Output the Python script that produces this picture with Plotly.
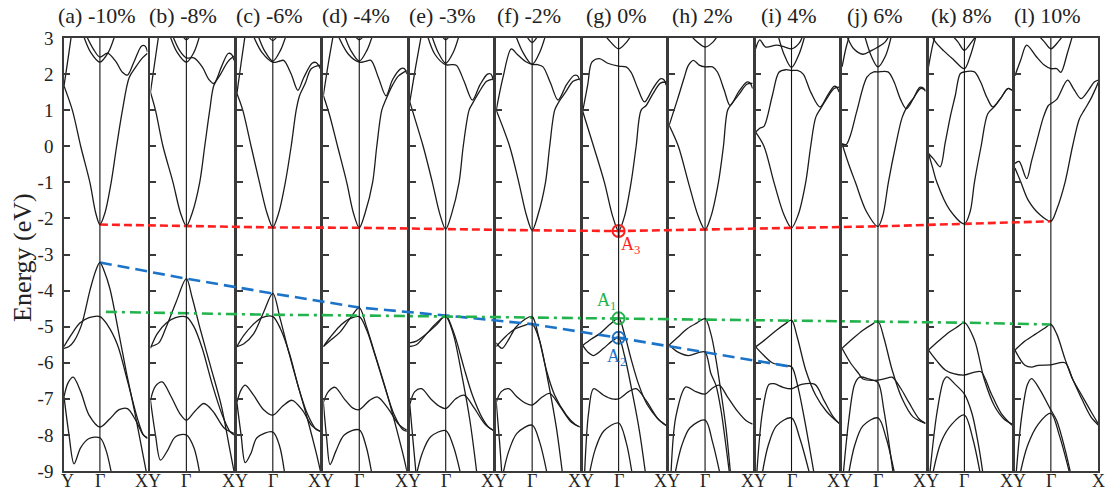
import plotly.graph_objects as go

# ---------------- data ----------------
TITLES = ["(a) -10%", "(b) -8%", "(c) -6%", "(d) -4%", "(e) -3%", "(f) -2%",
          "(g) 0%", "(h) 2%", "(i) 4%", "(j) 6%", "(k) 8%", "(l) 10%"]
Y_TICKS = [-9, -8, -7, -6, -5, -4, -3, -2, -1, 0, 1, 2, 3]
Y_TICK_TEXT = ["-9", "-8", "-7", "-6", "-5", "-4", "-3", "-2", "-1", "0", "1", "2", "3"]
K_LABELS = ["Y", "Γ", "X"]

# energies at Γ of each panel for the guide lines
RED_E = [-2.17, -2.21, -2.25, -2.26, -2.30, -2.33, -2.35, -2.31, -2.26, -2.22, -2.15, -2.08]
GREEN_E = [-4.59, -4.63, -4.67, -4.69, -4.72, -4.74, -4.77, -4.79, -4.82, -4.85, -4.89, -4.94]
BLUE_E = [-3.22, -3.67, -4.08, -4.47, -4.69, -4.93, -5.31, -5.70, -6.11]
A_POINTS_E = [-4.77, -5.31, -2.35]  # A1, A2, A3 at Γ of (g)

# band nodes (k, E); k: Y=0, Γ=0.43, X=1
BANDS_A = [
    [(0, 1.67), (0.1, 1.0), (0.2, 0.0), (0.31, -1.0), (0.38, -1.85), (0.43, -2.17), (0.49, -1.85), (0.565, -1.0), (0.63, 0.0), (0.70, 1.0), (0.78, 1.9), (0.86, 2.2), (0.94, 2.45), (1.0, 2.58)],
    [(0.25, 3.15), (0.35, 2.7), (0.43, 2.47), (0.52, 2.58), (0.62, 2.35), (0.70, 2.05), (0.76, 1.97), (0.84, 2.35), (0.93, 2.78), (0.97, 2.78), (1.0, 2.62)],
    [(0.22, 3.15), (0.32, 2.6), (0.43, 2.33), (0.53, 2.6), (0.62, 3.15)],
    [(0, 1.67), (0.05, 2.45), (0.09, 3.1)],
    [(0, -5.6), (0.06, -5.55), (0.12, -5.4), (0.21, -4.95), (0.31, -4.0), (0.38, -3.45), (0.43, -3.22), (0.48, -3.45), (0.55, -3.95), (0.65, -5.1), (0.75, -6.3), (0.85, -7.4), (0.95, -8.6), (1.0, -9.2)],
    [(0, -5.55), (0.08, -5.25), (0.19, -4.9), (0.3, -4.75), (0.43, -4.72), (0.52, -4.95), (0.64, -5.5), (0.76, -6.5), (0.88, -7.55), (0.95, -8.0), (1.0, -8.1)],
    [(0, -6.94), (0.05, -6.55), (0.11, -6.4), (0.2, -6.8), (0.3, -7.45), (0.43, -7.78), (0.55, -7.55), (0.66, -7.3), (0.76, -7.27), (0.86, -7.6), (0.95, -8.0), (1.0, -8.08)],
    [(0, -6.94), (0.06, -8.0), (0.12, -8.8), (0.2, -8.35), (0.3, -8.1), (0.43, -8.08), (0.5, -8.4), (0.58, -9.2)],
]
BANDS_B = [
    [(0, 1.5), (0.06, 1.0), (0.15, 0.0), (0.27, -1.0), (0.36, -1.85), (0.43, -2.21), (0.5, -1.85), (0.59, -1.0), (0.65, 0.0), (0.71, 1.0), (0.76, 1.69), (0.84, 2.0), (0.93, 2.35), (1.0, 2.5)],
    [(0.25, 3.15), (0.35, 2.65), (0.43, 2.45), (0.52, 2.45), (0.62, 2.2), (0.70, 1.85), (0.76, 1.74), (0.85, 2.2), (0.93, 2.57), (0.97, 2.55), (1.0, 2.38)],
    [(0.22, 3.15), (0.32, 2.6), (0.43, 2.33), (0.52, 2.6), (0.6, 3.15)],
    [(0.36, 3.15), (0.43, 2.95), (0.5, 3.15)],
    [(0, 1.5), (0.05, 2.3), (0.1, 3.1)],
    [(0, -5.55), (0.1, -5.45), (0.19, -5.0), (0.31, -4.3), (0.43, -3.67), (0.5, -4.2), (0.6, -5.1), (0.72, -6.1), (0.85, -7.2), (0.95, -8.4), (1.0, -9.0)],
    [(0, -5.6), (0.08, -5.2), (0.19, -4.9), (0.3, -4.75), (0.43, -4.73), (0.52, -5.0), (0.62, -5.6), (0.74, -6.6), (0.86, -7.45), (0.95, -7.9), (1.0, -8.0)],
    [(0, -7.04), (0.06, -6.65), (0.14, -6.53), (0.25, -6.95), (0.35, -7.4), (0.43, -7.59), (0.53, -7.35), (0.64, -7.13), (0.75, -7.35), (0.88, -7.8), (1.0, -7.96)],
    [(0, -7.04), (0.06, -8.0), (0.12, -8.7), (0.2, -8.45), (0.3, -8.05), (0.43, -8.0), (0.52, -8.35), (0.6, -9.2)],
]
BANDS_C = [
    [(0, 1.46), (0.07, 1.0), (0.17, 0.0), (0.27, -1.0), (0.36, -1.85), (0.43, -2.24), (0.5, -1.85), (0.58, -1.0), (0.65, 0.0), (0.71, 1.0), (0.75, 1.4), (0.82, 1.75), (0.89, 2.15), (1.0, 2.25)],
    [(0.18, 3.15), (0.3, 2.6), (0.43, 2.33), (0.5, 2.35), (0.56, 2.38), (0.65, 2.0), (0.73, 1.55), (0.8, 1.9), (0.9, 2.3), (0.95, 2.32), (1.0, 2.15)],
    [(0.24, 3.15), (0.33, 2.65), (0.43, 2.36), (0.52, 2.65), (0.6, 3.15)],
    [(0.35, 3.15), (0.43, 2.93), (0.51, 3.15)],
    [(0, 1.46), (0.05, 2.3), (0.1, 3.1)],
    [(0, -5.55), (0.08, -5.48), (0.2, -5.2), (0.32, -4.6), (0.43, -4.08), (0.52, -4.8), (0.62, -5.7), (0.73, -6.62), (0.85, -7.6), (0.95, -8.5), (1.0, -9.0)],
    [(0, -5.55), (0.08, -5.25), (0.19, -4.95), (0.3, -4.75), (0.43, -4.72), (0.52, -5.05), (0.63, -5.75), (0.74, -6.7), (0.85, -7.45), (0.95, -7.85), (1.0, -7.9)],
    [(0, -7.1), (0.05, -6.75), (0.1, -6.62), (0.2, -6.9), (0.32, -7.3), (0.43, -7.45), (0.55, -7.2), (0.66, -7.04), (0.78, -7.3), (0.9, -7.75), (1.0, -7.9)],
    [(0, -7.1), (0.05, -8.0), (0.1, -8.77), (0.17, -8.5), (0.24, -8.08), (0.43, -7.92), (0.51, -8.3), (0.58, -9.2)],
]
BANDS_D = [
    [(0, 1.41), (0.07, 0.9), (0.17, 0.0), (0.28, -1.0), (0.36, -1.85), (0.43, -2.26), (0.5, -1.85), (0.59, -1.0), (0.64, 0.0), (0.7, 1.0), (0.75, 1.3), (0.83, 1.7), (0.9, 1.95), (1.0, 2.1)],
    [(0.16, 3.15), (0.3, 2.55), (0.43, 2.33), (0.5, 2.35), (0.57, 2.38), (0.66, 1.9), (0.75, 1.4), (0.83, 1.85), (0.93, 2.15), (0.97, 2.15), (1.0, 2.0)],
    [(0.24, 3.15), (0.33, 2.65), (0.43, 2.36), (0.52, 2.65), (0.6, 3.15)],
    [(0.35, 3.15), (0.43, 2.95), (0.51, 3.15)],
    [(0, 1.41), (0.06, 2.3), (0.12, 3.1)],
    [(0, -5.55), (0.1, -5.35), (0.2, -5.15), (0.32, -4.77), (0.43, -4.47), (0.51, -4.95), (0.61, -5.7), (0.73, -6.6), (0.85, -7.6), (0.95, -8.5), (1.0, -9.0)],
    [(0, -5.55), (0.08, -5.3), (0.19, -5.0), (0.3, -4.8), (0.43, -4.72), (0.52, -5.1), (0.62, -5.8), (0.74, -6.7), (0.85, -7.45), (0.95, -7.85), (1.0, -7.9)],
    [(0, -7.1), (0.06, -6.8), (0.14, -6.68), (0.25, -7.0), (0.35, -7.25), (0.43, -7.3), (0.55, -7.05), (0.65, -6.95), (0.77, -7.25), (0.9, -7.7), (1.0, -7.87)],
    [(0, -7.1), (0.04, -8.1), (0.08, -8.82), (0.15, -8.45), (0.25, -8.0), (0.43, -7.86), (0.51, -8.3), (0.59, -9.2)],
]
BANDS_E = [
    [(0, 1.23), (0.03, 1.0), (0.16, 0.0), (0.27, -1.0), (0.36, -1.88), (0.43, -2.3), (0.5, -1.88), (0.59, -1.0), (0.64, 0.0), (0.71, 1.0), (0.75, 1.18), (0.83, 1.5), (0.92, 1.8), (1.0, 1.87)],
    [(0.2, 3.15), (0.3, 2.55), (0.43, 2.26), (0.5, 2.26), (0.56, 2.24), (0.65, 1.8), (0.75, 1.28), (0.84, 1.7), (0.93, 2.0), (0.97, 2.0), (1.0, 1.83)],
    [(0.25, 3.15), (0.34, 2.6), (0.43, 2.3), (0.52, 2.6), (0.6, 3.15)],
    [(0.36, 3.15), (0.43, 2.95), (0.5, 3.15)],
    [(0, 1.23), (0.07, 2.2), (0.14, 3.1)],
    [(0, -5.45), (0.08, -5.4), (0.16, -5.27), (0.32, -4.95), (0.43, -4.69), (0.5, -5.0), (0.56, -5.4), (0.65, -6.15), (0.75, -6.9), (0.87, -7.54), (0.95, -7.8), (1.0, -7.87)],
    [(0, -5.55), (0.08, -5.5), (0.2, -5.2), (0.32, -4.9), (0.43, -4.72), (0.52, -5.2), (0.62, -6.3), (0.72, -7.6), (0.81, -9.2)],
    [(0, -7.16), (0.06, -6.8), (0.14, -6.72), (0.25, -7.0), (0.35, -7.2), (0.43, -7.27), (0.55, -7.0), (0.65, -6.9), (0.77, -7.25), (0.9, -7.7), (1.0, -7.87)],
    [(0.07, -9.2), (0.15, -8.5), (0.25, -8.05), (0.43, -7.88), (0.52, -8.3), (0.62, -9.2)],
    [(0, -7.16), (0.04, -8.2), (0.08, -9.2)],
]
BANDS_F = [
    [(0, 1.0), (0.16, 0.0), (0.27, -1.0), (0.36, -1.9), (0.43, -2.33), (0.5, -1.9), (0.59, -1.0), (0.64, 0.0), (0.70, 1.0), (0.75, 1.23), (0.83, 1.5), (0.92, 1.8), (1.0, 1.87)],
    [(0, 1.0), (0.08, 1.9), (0.18, 2.7), (0.25, 2.55), (0.35, 2.35), (0.43, 2.27), (0.5, 2.26), (0.56, 2.2), (0.65, 1.75), (0.74, 1.28), (0.84, 1.7), (0.93, 1.96), (0.97, 1.96), (1.0, 1.83)],
    [(0.22, 3.15), (0.32, 2.6), (0.43, 2.27), (0.52, 2.6), (0.6, 3.15)],
    [(0.34, 3.15), (0.43, 2.88), (0.52, 3.15)],
    [(0, -5.45), (0.07, -5.6), (0.15, -5.35), (0.23, -5.03), (0.34, -4.8), (0.43, -4.72), (0.51, -5.3), (0.6, -6.2), (0.7, -6.9), (0.84, -7.45), (0.95, -7.72), (1.0, -7.78)],
    [(0, -5.55), (0.1, -5.3), (0.2, -5.1), (0.32, -4.98), (0.43, -4.93), (0.52, -5.4), (0.62, -6.5), (0.72, -7.8), (0.8, -9.2)],
    [(0, -7.1), (0.06, -6.8), (0.15, -6.72), (0.25, -6.95), (0.35, -7.12), (0.43, -7.17), (0.55, -6.95), (0.64, -6.85), (0.76, -7.2), (0.9, -7.65), (1.0, -7.78)],
    [(0.07, -9.2), (0.15, -8.45), (0.25, -7.95), (0.43, -7.73), (0.52, -8.2), (0.62, -9.2)],
    [(0, -7.1), (0.04, -8.2), (0.07, -9.2)],
]
BANDS_G = [
    [(0, 0.97), (0.13, 0.0), (0.26, -1.0), (0.36, -1.95), (0.43, -2.35), (0.5, -1.95), (0.58, -1.0), (0.64, 0.0), (0.70, 1.0), (0.76, 1.13), (0.84, 1.45), (0.93, 1.75), (1.0, 1.78)],
    [(0, 0.97), (0.06, 1.7), (0.11, 2.33), (0.2, 2.43), (0.3, 2.3), (0.43, 2.22), (0.52, 2.2), (0.58, 2.05), (0.66, 1.6), (0.74, 1.23), (0.84, 1.6), (0.93, 1.87), (0.97, 1.85), (1.0, 1.69)],
    [(0.24, 3.15), (0.33, 2.9), (0.43, 2.7), (0.53, 2.9), (0.6, 3.15)],
    [(0, -5.52), (0.1, -5.35), (0.2, -5.2), (0.32, -4.95), (0.43, -4.77), (0.5, -5.2), (0.58, -5.9), (0.67, -6.6), (0.77, -7.15), (0.9, -7.55), (1.0, -7.74)],
    [(0, -5.52), (0.06, -5.7), (0.13, -5.8), (0.25, -5.6), (0.35, -5.4), (0.43, -5.31), (0.5, -5.8), (0.6, -6.9), (0.68, -7.9), (0.76, -9.2)],
    [(0.02, -9.2), (0.07, -7.4), (0.13, -6.72), (0.25, -6.9), (0.35, -7.0), (0.43, -7.0), (0.55, -6.8), (0.64, -6.72), (0.76, -7.05), (0.9, -7.55), (1.0, -7.74)],
    [(0.07, -9.2), (0.15, -8.4), (0.25, -7.9), (0.43, -7.67), (0.52, -8.2), (0.6, -9.2)],
]
BANDS_H = [
    [(0, 0.58), (0.11, 0.0), (0.23, -1.0), (0.35, -1.95), (0.43, -2.31), (0.5, -1.95), (0.59, -1.0), (0.65, 0.0), (0.70, 1.0), (0.75, 1.18), (0.84, 1.45), (0.93, 1.72), (1.0, 1.74)],
    [(0, 0.58), (0.1, 1.3), (0.18, 1.9), (0.23, 2.24), (0.29, 2.38), (0.36, 2.25), (0.43, 2.2), (0.52, 2.2), (0.58, 2.05), (0.66, 1.55), (0.73, 1.13), (0.83, 1.5), (0.93, 1.78), (0.97, 1.75), (1.0, 1.6)],
    [(0.23, 3.15), (0.33, 2.9), (0.43, 2.75), (0.53, 2.9), (0.6, 3.15)],
    [(0, -5.51), (0.1, -5.3), (0.22, -5.05), (0.33, -4.9), (0.43, -4.78), (0.5, -5.2), (0.56, -5.9), (0.62, -6.8), (0.68, -7.8), (0.74, -9.2)],
    [(0, -5.51), (0.1, -5.7), (0.23, -5.8), (0.35, -5.72), (0.43, -5.7), (0.5, -6.3), (0.56, -6.62), (0.62, -7.3), (0.68, -8.3), (0.73, -9.2)],
    [(0.02, -9.2), (0.08, -7.5), (0.2, -6.67), (0.32, -6.8), (0.43, -6.87), (0.52, -6.7), (0.6, -6.62), (0.7, -6.95), (0.82, -7.35), (0.92, -7.6), (1.0, -7.7)],
    [(0.06, -9.2), (0.15, -8.3), (0.25, -7.8), (0.43, -7.59), (0.52, -8.2), (0.62, -9.2)],
]
BANDS_I = [
    [(0, 0.39), (0.1, 0.0), (0.22, -1.0), (0.34, -1.9), (0.43, -2.26), (0.51, -1.9), (0.6, -1.0), (0.66, 0.0), (0.72, 0.8), (0.78, 1.05), (0.86, 1.35), (0.94, 1.6), (1.0, 1.64)],
    [(0, 0.39), (0.05, 0.5), (0.1, 0.55), (0.2, 1.4), (0.28, 2.05), (0.36, 2.12), (0.43, 2.1), (0.5, 2.1), (0.57, 2.0), (0.66, 1.5), (0.77, 1.09), (0.86, 1.4), (0.94, 1.66), (0.97, 1.64), (1.0, 1.5)],
    [(0.26, 3.15), (0.34, 2.55), (0.43, 2.18), (0.52, 2.55), (0.6, 3.15)],
    [(0, 2.7), (0.05, 2.95), (0.12, 2.75), (0.25, 2.8), (0.35, 2.75), (0.43, 2.7), (0.52, 2.85), (0.58, 3.15)],
    [(0, -5.56), (0.12, -5.35), (0.25, -5.1), (0.35, -4.93), (0.43, -4.82), (0.5, -5.3), (0.6, -6.2), (0.72, -6.9), (0.85, -7.35), (1.0, -7.68)],
    [(0, -5.56), (0.1, -5.8), (0.2, -6.0), (0.33, -6.08), (0.43, -6.11), (0.5, -6.6), (0.58, -7.5), (0.65, -8.4), (0.71, -9.2)],
    [(0.01, -9.2), (0.08, -7.4), (0.16, -6.6), (0.22, -6.58), (0.33, -6.68), (0.43, -6.72), (0.55, -6.6), (0.71, -6.6), (0.82, -7.05), (0.93, -7.5), (1.0, -7.68)],
    [(0.07, -9.2), (0.15, -8.3), (0.25, -7.75), (0.43, -7.53), (0.53, -8.1), (0.66, -9.2)],
]
BANDS_J = [
    [(0, 0.07), (0.08, -0.5), (0.16, -1.0), (0.29, -1.8), (0.43, -2.22), (0.49, -1.9), (0.555, -1.0), (0.64, 0.0), (0.72, 0.8), (0.78, 1.1), (0.86, 1.35), (0.94, 1.6), (1.0, 1.55)],
    [(0, 0.07), (0.05, 0.05), (0.1, 0.3), (0.18, 1.0), (0.3, 1.92), (0.38, 2.06), (0.43, 2.06), (0.55, 2.06), (0.62, 1.8), (0.7, 1.3), (0.77, 1.04), (0.86, 1.35), (0.93, 1.63), (0.97, 1.62), (1.0, 1.52)],
    [(0.26, 3.15), (0.35, 2.5), (0.43, 2.2), (0.52, 2.5), (0.6, 3.15)],
    [(0, 2.2), (0.05, 2.75), (0.1, 3.15)],
    [(0.04, 3.15), (0.14, 2.7), (0.25, 2.55), (0.35, 2.65), (0.43, 2.75), (0.52, 2.9), (0.58, 3.15)],
    [(0, -5.6), (0.12, -5.35), (0.25, -5.1), (0.35, -4.95), (0.43, -4.85), (0.5, -5.3), (0.6, -6.2), (0.72, -7.0), (0.85, -7.5), (1.0, -7.68)],
    [(0, -5.6), (0.1, -6.0), (0.2, -6.3), (0.25, -6.45), (0.43, -6.48), (0.55, -6.42), (0.6, -6.4), (0.7, -6.7), (0.8, -7.1), (0.92, -7.55), (1.0, -7.68)],
    [(0.01, -9.2), (0.08, -7.6), (0.15, -6.6), (0.21, -6.4), (0.32, -6.45), (0.43, -6.55), (0.5, -7.3), (0.56, -8.2), (0.62, -9.2)],
    [(0.07, -9.2), (0.15, -8.3), (0.25, -7.75), (0.43, -7.53), (0.53, -8.1), (0.64, -9.2)],
]
BANDS_K = [
    [(0, -0.2), (0.05, -0.6), (0.1, -1.0), (0.25, -1.75), (0.43, -2.15), (0.5, -1.8), (0.55, -1.0), (0.63, 0.0), (0.71, 0.9), (0.79, 1.1), (0.87, 1.35), (0.95, 1.6), (1.0, 1.55)],
    [(0, -0.2), (0.06, -0.35), (0.14, -0.57), (0.2, 0.1), (0.26, 0.81), (0.32, 1.4), (0.38, 2.01), (0.43, 2.06), (0.55, 2.06), (0.62, 1.8), (0.7, 1.35), (0.77, 1.09), (0.87, 1.35), (0.95, 1.6), (1.0, 1.55)],
    [(0.25, 3.15), (0.35, 2.9), (0.43, 2.66), (0.52, 2.9), (0.6, 3.15)],
    [(0, 2.2), (0.05, 2.8), (0.09, 3.15)],
    [(0.02, 3.15), (0.08, 2.9), (0.18, 2.65), (0.3, 2.4), (0.43, 2.15), (0.5, 2.5), (0.58, 3.15)],
    [(0, -5.65), (0.12, -5.4), (0.25, -5.15), (0.35, -5.0), (0.43, -4.89), (0.55, -5.37), (0.67, -6.48), (0.79, -7.2), (0.9, -7.55), (1.0, -7.7)],
    [(0, -5.65), (0.1, -5.95), (0.2, -6.2), (0.3, -6.3), (0.43, -6.34), (0.55, -6.26), (0.63, -6.25), (0.75, -6.85), (0.87, -7.4), (1.0, -7.73)],
    [(0.01, -9.2), (0.1, -7.4), (0.18, -6.5), (0.22, -6.39), (0.32, -6.6), (0.43, -6.87), (0.52, -7.4), (0.6, -8.3), (0.66, -9.2)],
    [(0.04, -9.2), (0.15, -8.2), (0.28, -7.7), (0.43, -7.45), (0.53, -8.1), (0.63, -9.2)],
]
BANDS_L = [
    [(0, -0.6), (0.07, -0.99), (0.16, -1.5), (0.3, -1.9), (0.43, -2.08), (0.5, -1.75), (0.6, -1.0), (0.69, 0.0), (0.77, 0.75), (0.83, 1.0), (0.91, 1.32), (1.0, 1.78)],
    [(0, -0.48), (0.05, -0.42), (0.14, -0.9), (0.2, -0.4), (0.28, 0.3), (0.34, 0.8), (0.4, 1.13), (0.43, 1.18), (0.5, 1.3), (0.63, 1.83), (0.7, 1.6), (0.79, 1.32), (0.88, 1.55), (0.95, 1.78), (1.0, 1.83)],
    [(0.25, 3.15), (0.35, 2.9), (0.43, 2.7), (0.52, 2.9), (0.6, 3.15)],
    [(0, 1.95), (0.07, 2.4), (0.14, 2.8), (0.25, 2.5), (0.35, 2.25), (0.43, 2.15), (0.5, 2.15), (0.55, 2.05), (0.63, 2.6), (0.7, 3.15)],
    [(0, -5.65), (0.12, -5.4), (0.25, -5.2), (0.35, -5.05), (0.43, -4.94), (0.5, -5.2), (0.6, -5.9), (0.69, -6.45), (0.8, -6.9), (0.91, -7.35), (1.0, -7.7)],
    [(0, -5.65), (0.12, -6.07), (0.2, -6.12), (0.28, -6.07), (0.43, -6.06), (0.6, -6.0), (0.69, -6.45), (0.8, -7.0), (0.91, -7.5), (1.0, -7.73)],
    [(0.01, -9.2), (0.08, -7.5), (0.15, -6.6), (0.2, -6.44), (0.3, -6.75), (0.43, -7.31), (0.5, -7.6), (0.6, -8.4), (0.68, -9.2)],
    [(0.05, -9.2), (0.15, -8.3), (0.28, -7.7), (0.43, -7.4), (0.53, -8.0), (0.67, -9.2)],
]
ALL_BANDS = [BANDS_A, BANDS_B, BANDS_C, BANDS_D, BANDS_E, BANDS_F,
             BANDS_G, BANDS_H, BANDS_I, BANDS_J, BANDS_K, BANDS_L]

# ---------------- layout constants ----------------
W_FIG, H_FIG = 1109, 492
LEFT0, PITCH, PW = 64.0, 86.45, 83.5
TOP_PX, BOT_PX = 38.0, 471.0
G = 0.43
FONT = "Liberation Serif, Times New Roman, serif"
RED, BLUE, GREEN = "#ff1f1f", "#1c74c9", "#22b34c"
FRAME = "#3a3a3a"

ydom = [1 - BOT_PX / H_FIG, 1 - TOP_PX / H_FIG]
n = len(TITLES)

def axname(i, letter):
    return letter if i == 0 else f"{letter}{i + 1}"

fig = go.Figure()
layout = dict(width=W_FIG, height=H_FIG, autosize=False,
              margin=dict(l=0, r=0, t=0, b=0, pad=0, autoexpand=False),
              paper_bgcolor="white", plot_bgcolor="rgba(0,0,0,0)",
              showlegend=False, shapes=[], annotations=[])

for i in range(n):
    left = LEFT0 + i * PITCH
    xd = [left / W_FIG, (left + PW) / W_FIG]
    xa, ya = axname(i, "x"), axname(i, "y")
    layout["xaxis" if i == 0 else f"xaxis{i + 1}"] = dict(
        domain=xd, range=[0, 1], anchor=ya, showgrid=False, zeroline=False,
        showticklabels=False, ticks="", showline=True, mirror=True,
        linecolor=FRAME, linewidth=1.6, fixedrange=True, automargin=False)
    layout["yaxis" if i == 0 else f"yaxis{i + 1}"] = dict(
        domain=ydom, range=[-9, 3], anchor=xa, showgrid=False, zeroline=False,
        tickvals=Y_TICKS, ticktext=Y_TICK_TEXT, showticklabels=(i == 0),
        ticks="inside", ticklen=6, tickwidth=1.5, tickcolor=FRAME,
        showline=True, mirror=True, linecolor=FRAME, linewidth=1.6,
        tickfont=dict(family=FONT, size=19, color="#222"), ticklabelstandoff=5,
        fixedrange=True, automargin=False)
    # Γ vertical line
    layout["shapes"].append(dict(type="line", xref=xa, yref=f"{ya} domain",
                                 x0=G, x1=G, y0=0, y1=1,
                                 line=dict(color="#111", width=1.1)))
    for band in ALL_BANDS[i]:
        fig.add_trace(go.Scatter(
            x=[p[0] for p in band], y=[p[1] for p in band], mode="lines",
            line=dict(color="#1c1c1c", width=1.3, shape="spline", smoothing=0.9),
            xaxis=xa, yaxis=ya, hoverinfo="skip"))
    # panel title
    gx = left + G * PW
    layout["annotations"].append(dict(
        text=TITLES[i], xref="paper", yref="paper", x=(gx - 3) / W_FIG,
        y=1 - 15 / H_FIG, xanchor="center", yanchor="middle", showarrow=False,
        font=dict(family=FONT, size=22, color="#222")))
    # k-point labels
    layout["annotations"].append(dict(
        text=K_LABELS[1], xref="paper", yref="paper", x=gx / W_FIG,
        y=1 - 481 / H_FIG, xanchor="center", yanchor="middle", showarrow=False,
        font=dict(family=FONT, size=18, color="#222")))
    if i == 0:
        lab, px = K_LABELS[0], left + 3
    else:
        lab, px = K_LABELS[2] + K_LABELS[0], left - 2
    layout["annotations"].append(dict(
        text=lab, xref="paper", yref="paper", x=px / W_FIG,
        y=1 - 481 / H_FIG, xanchor="center", yanchor="middle", showarrow=False,
        font=dict(family=FONT, size=18, color="#222")))
    if i == n - 1:
        layout["annotations"].append(dict(
            text=K_LABELS[2], xref="paper", yref="paper", x=(left + PW) / W_FIG,
            y=1 - 481 / H_FIG, xanchor="center", yanchor="middle", showarrow=False,
            font=dict(family=FONT, size=18, color="#222")))

# overlay axis spanning all panels (pixel x scale, energy y scale)
ox, oy = f"x{n + 1}", f"y{n + 1}"
layout[f"xaxis{n + 1}"] = dict(domain=[0, 1], range=[0, W_FIG], anchor=oy,
                               visible=False, fixedrange=True, automargin=False)
layout[f"yaxis{n + 1}"] = dict(domain=ydom, range=[-9, 3], anchor=ox,
                               visible=False, fixedrange=True, automargin=False)
gamma_px = [LEFT0 + i * PITCH + G * PW for i in range(n)]

fig.add_trace(go.Scatter(x=gamma_px, y=RED_E, mode="lines", xaxis=ox, yaxis=oy,
                         line=dict(color=RED, width=2.6, dash="8px,4px"), hoverinfo="skip"))
fig.add_trace(go.Scatter(x=gamma_px[:len(BLUE_E)], y=BLUE_E, mode="lines", xaxis=ox, yaxis=oy,
                         line=dict(color=BLUE, width=2.6, dash="12px,6px"), hoverinfo="skip"))
fig.add_trace(go.Scatter(x=[gamma_px[0] + 6] + gamma_px[1:], y=GREEN_E, mode="lines", xaxis=ox, yaxis=oy,
                         line=dict(color=GREEN, width=2.6, dash="11px,5px,3px,5px"), hoverinfo="skip"))
# A1, A2, A3 markers at Γ of (g)
A_COLORS = [GREEN, BLUE, RED]
fig.add_trace(go.Scatter(x=[gamma_px[6]] * 3, y=A_POINTS_E, mode="markers", xaxis=ox, yaxis=oy,
                         marker=dict(symbol="circle-cross-open", size=12, color=A_COLORS,
                                     line=dict(width=2, color=A_COLORS)), hoverinfo="skip"))
A_LABELS = ["A<sub>1</sub>", "A<sub>2</sub>", "A<sub>3</sub>"]
A_SHIFTS = [(-12, 17), (-2, -20), (12, -14)]
for lab, e, col, (dx, dy) in zip(A_LABELS, A_POINTS_E, A_COLORS, A_SHIFTS):
    layout["annotations"].append(dict(
        text=lab, xref=ox, yref=oy, x=gamma_px[6], y=e, xshift=dx, yshift=dy,
        showarrow=False, xanchor="center", yanchor="middle",
        font=dict(family=FONT, size=18, color=col)))

# y axis title
layout["annotations"].append(dict(
    text="Energy (eV)", xref="paper", yref="paper", x=22 / W_FIG,
    y=1 - 258 / H_FIG, xanchor="center", yanchor="middle", textangle=-90,
    showarrow=False, font=dict(family=FONT, size=26, color="#222")))

fig.update_layout(**layout)
fig.write_html("out.html")
